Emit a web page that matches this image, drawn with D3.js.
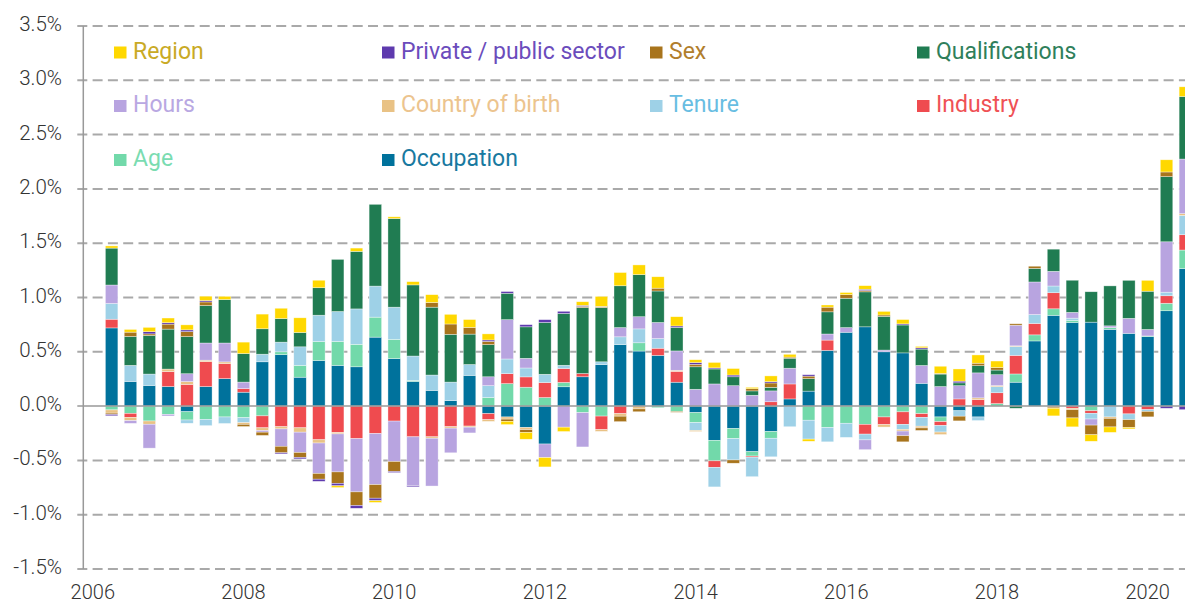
<!DOCTYPE html>
<html>
<head>
<meta charset="utf-8">
<script src="https://cdnjs.cloudflare.com/ajax/libs/d3/7.8.5/d3.min.js"></script>
<style>
	body { margin: 0; background: #fff; overflow: hidden; }
	text { font-family: Roboto, "Noto Sans", sans-serif; }
</style>
</head>
<body>
<div id="main"></div>
<script>
// Quarterly categories, one bar each
var quarters = [
	'2006 Q1','2006 Q2','2006 Q3','2006 Q4','2007 Q1','2007 Q2','2007 Q3','2007 Q4',
	'2008 Q1','2008 Q2','2008 Q3','2008 Q4','2009 Q1','2009 Q2','2009 Q3','2009 Q4',
	'2010 Q1','2010 Q2','2010 Q3','2010 Q4','2011 Q1','2011 Q2','2011 Q3','2011 Q4',
	'2012 Q1','2012 Q2','2012 Q3','2012 Q4','2013 Q1','2013 Q2','2013 Q3','2013 Q4',
	'2014 Q1','2014 Q2','2014 Q3','2014 Q4','2015 Q1','2015 Q2','2015 Q3','2015 Q4',
	'2016 Q1','2016 Q2','2016 Q3','2016 Q4','2017 Q1','2017 Q2','2017 Q3','2017 Q4',
	'2018 Q1','2018 Q2','2018 Q3','2018 Q4','2019 Q1','2019 Q2','2019 Q3','2019 Q4',
	'2020 Q1','2020 Q2'
];

// Contributions (percentage points)
var occupation = [0.72,0.227,0.19,0.18,-0.052,0.18,0.253,0.128,0.408,0.474,0.266,0.42,0.375,0.362,0.635,0.437,
	0.227,0.145,0.05,0.283,-0.069,-0.1,-0.197,-0.349,0.178,0.27,0.382,0.566,0.507,0.467,0.22,-0.06,
	-0.316,-0.207,-0.42,-0.234,0.066,0.138,0.513,0.68,0.73,0.5,0.49,0.21,-0.1,-0.043,-0.1,0,
	0.22,0.6,0.836,0.77,0.773,0.707,0.67,0.64,0.878,1.266];
var age = [-0.035,-0.067,-0.137,-0.076,-0.076,-0.122,-0.1,-0.107,-0.09,0.026,0.109,0.174,0.22,0.207,0.184,0.178,
	0.01,0,0,0,0.079,0.207,0.174,0.079,0.04,-0.06,-0.092,0,0.076,-0.015,-0.05,-0.092,
	-0.188,-0.092,-0.04,-0.062,0,-0.13,-0.197,-0.158,-0.168,-0.1,-0.053,-0.07,-0.043,0,0,0.023,
	0.076,0.056,0.06,0.02,-0.043,0.016,0,0.006,0.069,0.171];
var industry = [0.08,-0.037,0,0.138,0.2,0.23,0.138,0.033,-0.11,-0.19,-0.2,-0.31,-0.243,-0.3,-0.253,-0.138,
	-0.283,-0.283,-0.19,-0.184,-0.056,0.092,0.095,0.138,0.128,0.03,-0.125,-0.07,0,0.066,0.1,0,
	-0.06,0,-0.01,0.04,0.138,0,0.095,0,-0.09,-0.07,-0.115,-0.033,-0.036,0.066,0.06,0.1,
	0.171,0.105,0.148,-0.02,-0.023,0,-0.072,-0.033,0.069,0.141];
var tenure = [0.145,0.148,0.105,0,-0.03,-0.058,-0.06,-0.046,0.07,0.089,0.171,0.243,0.276,0.326,0.286,0.296,
	0.224,0.141,0.171,0.1,0.109,0.135,0.082,0.076,0.03,0,0.026,0.072,0.128,0.089,0,-0.072,
	-0.18,-0.197,-0.18,-0.171,-0.19,-0.174,-0.132,-0.13,-0.053,0,-0.046,-0.082,-0.06,-0.05,-0.033,0.056,
	0.082,0.082,0.062,0.02,-0.053,-0.1,-0.053,-0.016,0.033,0.178];
var countryOfBirth = [-0.03,-0.03,-0.03,0.023,0.026,0.013,0.016,-0.015,-0.025,-0.02,-0.04,-0.03,-0.013,0,0,0,
	0,-0.013,-0.013,-0.01,-0.016,-0.02,-0.02,0,0,0,-0.016,-0.023,-0.026,0,0.01,-0.01,
	0,0,0,0,0,0,0,0,0,-0.023,-0.016,-0.016,-0.023,0,0.016,0.01,
	0.006,0,-0.01,-0.013,0,-0.013,0,0,0,0.016];
var hours = [0.17,-0.025,-0.22,-0.015,0.072,0.158,0.174,0.06,-0.015,-0.16,-0.187,-0.28,-0.35,-0.49,-0.47,-0.372,
	-0.45,-0.44,-0.227,-0.053,0.082,0.362,0.089,-0.125,-0.194,-0.316,0,0.085,0.112,0.148,0.178,0.155,
	0.204,0.188,0.1,0.1,0.145,0,0.056,0.043,-0.09,0.016,-0.043,0.164,0.18,0.122,0.23,0.1,
	0.19,0.3,0.135,0.053,-0.056,0.016,0.138,0.06,0.464,0.503];
var qualifications = [0.34,0.266,0.355,0.368,0.342,0.345,0.4,0.263,0.234,0.217,0.132,0.253,0.48,0.53,0.753,0.816,
	0.655,0.625,0.44,0.28,0.296,0.243,0.29,0.477,0.477,0.608,0.5,0.385,0.388,0.29,0.217,0.207,
	0.138,0.082,0.04,0.033,0.092,0.115,0.204,0.27,0.322,0.31,0.257,0.151,0.115,0.026,0.066,0.043,
	-0.02,0.125,0.204,0.296,0.28,0.368,0.35,0.352,0.6,0.576];
var sex = [-0.012,0.04,0.015,0.046,0.046,0.033,0,-0.02,-0.03,-0.06,-0.046,-0.053,-0.105,-0.125,-0.125,-0.092,
	0,0.043,0.095,0.062,0.03,-0.02,-0.026,0,0,0.01,0.005,-0.05,-0.026,0.026,-0.007,0.023,
	0,-0.03,0.02,0.04,0.01,0.023,0.043,0.033,0.012,0.013,-0.056,-0.023,0.006,-0.043,0.023,0.023,
	0.013,0.02,-0.01,-0.076,-0.089,-0.079,-0.072,-0.05,0.043,0];
var privatePublic = [-0.012,0,0.02,0.013,0.016,0.013,0,0,0,-0.01,-0.013,-0.02,-0.023,-0.026,-0.023,-0.01,
	-0.01,0,0,0,0.013,0.016,0.02,0.026,0.02,0.01,0.005,0,0,0,0.013,0.016,
	0.01,0.016,0,0.012,0,0.013,0,0,0.012,0,0.01,0.012,0,0.016,0,0,
	0,0,0,0,0,0,0,0,-0.02,-0.033];
var region = [0.02,0.025,0.04,0.043,0.046,0.04,0.03,0.105,0.135,0.095,0.135,0.069,-0.016,0.03,-0.016,0.016,
	0.03,0.072,0.089,0.072,0.056,-0.03,-0.062,-0.086,-0.04,0.033,0.092,0.122,0.089,0.105,0.085,0.026,
	0.05,0.06,0.013,0.053,0.026,-0.02,0.02,0.02,0.033,0.033,0.04,0.013,0.066,0.112,0.076,0.06,
	0,0,-0.07,-0.082,-0.06,-0.05,-0.013,0.1,0.112,0.089];

// Stacking order, from the zero line outwards
var seriesKeys = ['Occupation', 'Age', 'Industry', 'Tenure', 'Country of birth', 'Hours',
	'Qualifications', 'Sex', 'Private / public sector', 'Region'];
var seriesValues = {
	'Occupation': occupation,
	'Age': age,
	'Industry': industry,
	'Tenure': tenure,
	'Country of birth': countryOfBirth,
	'Hours': hours,
	'Qualifications': qualifications,
	'Sex': sex,
	'Private / public sector': privatePublic,
	'Region': region
};

var legendRows = [
	['Region', 'Private / public sector', 'Sex', 'Qualifications'],
	['Hours', 'Country of birth', 'Tenure', 'Industry'],
	['Age', 'Occupation']
];

var yTicks = [-1.5, -1.0, -0.5, 0.0, 0.5, 1.0, 1.5, 2.0, 2.5, 3.0, 3.5];
var xTicks = [2006, 2008, 2010, 2012, 2014, 2016, 2018, 2020];

var colors = {
	'Region': '#ffd800',
	'Private / public sector': '#5e3aae',
	'Sex': '#a8741c',
	'Qualifications': '#207c52',
	'Hours': '#b8a4e0',
	'Country of birth': '#e9c285',
	'Tenure': '#9ed1e7',
	'Industry': '#ef4b4f',
	'Age': '#72d9aa',
	'Occupation': '#00729c'
};
var textColors = {
	'Region': '#c9aa25',
	'Private / public sector': '#6b4cbc',
	'Sex': '#b17e2c',
	'Qualifications': '#2f7f5b',
	'Hours': '#b9a8e2',
	'Country of birth': '#ecc48e',
	'Tenure': '#68bde2',
	'Industry': '#ef5155',
	'Age': '#7adcb1',
	'Occupation': '#18799f'
};

var svgWidth = 1185;
var svgHeight = 605;

var svg = d3.select('#main')
	.append('svg')
	.attr('width', svgWidth)
	.attr('height', svgHeight);

// bars sit at the end of each quarter on a continuous year axis
function quarterEnd(q) {
	var parts = q.split(' Q');
	return +parts[0] + (+parts[1]) / 4;
}

var table = quarters.map(function(q, i) {
	var row = {quarter: q, t: quarterEnd(q)};
	seriesKeys.forEach(function(k) { row[k] = seriesValues[k][i]; });
	return row;
});

var xScale = d3.scaleLinear().domain([2006, 2020]).range([92.8, 1147.7]);
var yScale = d3.scaleLinear().domain([-1.5, 3.5]).range([569, 26]);
var axisX = 83.3;
var barWidth = 12.5;

// gridlines
svg.append('g')
	.selectAll('line')
	.data(yTicks.filter(function(d) { return d !== 0; }))
	.enter()
	.append('line')
	.attr('x1', axisX - 6)
	.attr('x2', svgWidth)
	.attr('y1', function(d) { return yScale(d); })
	.attr('y2', function(d) { return yScale(d); })
	.attr('stroke', '#a9a9a9')
	.attr('stroke-width', 2)
	.attr('stroke-dasharray', '10,5.3');

// y tick labels
svg.append('g')
	.selectAll('text')
	.data(yTicks)
	.enter()
	.append('text')
	.attr('x', 62)
	.attr('y', function(d) { return yScale(d) + 5; })
	.attr('text-anchor', 'end')
	.attr('font-size', '20.5px')
	.attr('font-weight', 300)
	.attr('fill', '#333')
	.text(function(d) { return d3.format('.1f')(d).replace('−', '-') + '%'; });

// x labels
svg.append('g')
	.selectAll('text')
	.data(xTicks)
	.enter()
	.append('text')
	.attr('x', function(d) { return xScale(d); })
	.attr('y', 599)
	.attr('text-anchor', 'middle')
	.attr('font-size', '20px')
	.attr('font-weight', 300)
	.attr('fill', '#333')
	.text(function(d) { return d; });

// stacked bars, positives up and negatives down
var stacked = d3.stack()
	.keys(seriesKeys)
	.offset(d3.stackOffsetDiverging)(table);

svg.append('g')
	.selectAll('g')
	.data(stacked)
	.enter()
	.append('g')
	.attr('fill', function(d) { return colors[d.key]; })
	.selectAll('rect')
	.data(function(d) { return d; })
	.enter()
	.append('rect')
	.attr('x', function(d) { return xScale(d.data.t) - barWidth / 2; })
	.attr('width', barWidth)
	.attr('y', function(d) { return yScale(Math.max(d[0], d[1])); })
	.attr('height', function(d) { return Math.abs(yScale(d[0]) - yScale(d[1])); })
	.attr('stroke', '#fff')
	.attr('stroke-width', 0.6)
	.attr('stroke-opacity', 0.6);

// axis line and zero line
svg.append('line')
	.attr('x1', axisX).attr('x2', axisX)
	.attr('y1', yScale(3.5)).attr('y2', yScale(-1.5))
	.attr('stroke', '#999')
	.attr('stroke-width', 1.5);

svg.append('line')
	.attr('x1', axisX - 6).attr('x2', svgWidth)
	.attr('y1', yScale(0)).attr('y2', yScale(0))
	.attr('stroke', '#999')
	.attr('stroke-width', 1.5);

// legend, 4 columns x 3 rows
var legendCols = [114, 382, 650, 917];
var legendBaselines = [58.5, 112, 166];

legendRows.forEach(function(row, r) {
	row.forEach(function(name, c) {
		var g = svg.append('g')
			.attr('transform', 'translate(' + legendCols[c] + ',' + legendBaselines[r] + ')');
		g.append('rect')
			.attr('x', 0)
			.attr('y', -12)
			.attr('width', 12.5)
			.attr('height', 12)
			.attr('fill', colors[name]);
		g.append('text')
			.attr('x', 19)
			.attr('y', 0)
			.attr('font-size', '23px')
			.attr('font-weight', 400)
			.attr('fill', textColors[name])
			.text(name);
	});
});
</script>
</body>
</html>
